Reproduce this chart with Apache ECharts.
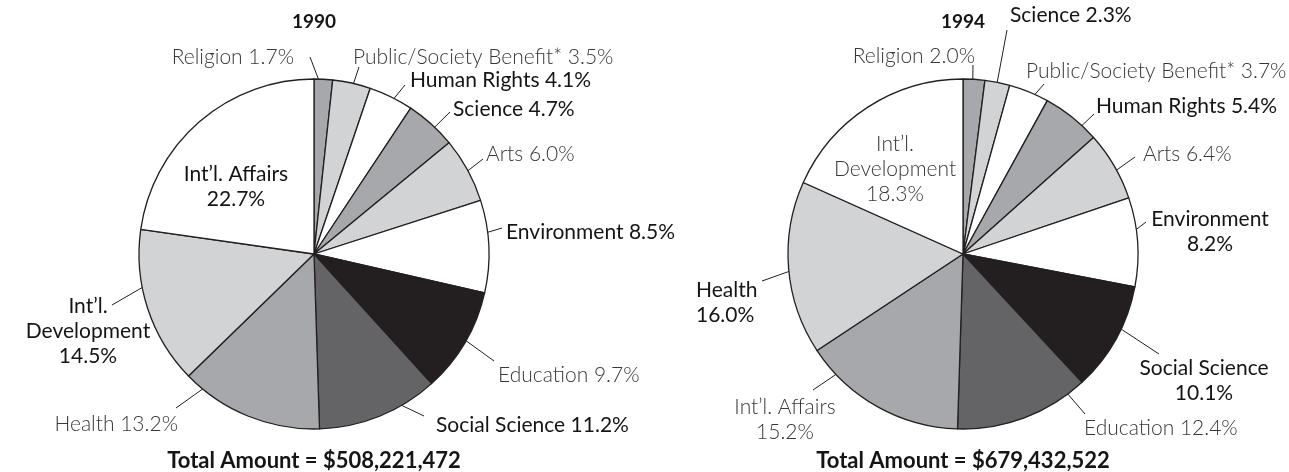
<!DOCTYPE html>
<html><head><meta charset="utf-8">
<script src="https://cdn.jsdelivr.net/npm/echarts@6/dist/echarts.min.js"></script>
<style>html,body{margin:0;padding:0;background:#fff}#c{width:1289px;height:472px}</style>
</head><body><div id="c"></div>
<script>
// ---- data ----
const years = ['1990', '1994'];
const totals = ['Total Amount = $508,221,472', 'Total Amount = $679,432,522'];
const categories1990 = ['Religion', 'Public/Society Benefit*', 'Human Rights', 'Science', 'Arts', 'Environment', 'Education', 'Social Science', 'Health', "Int\u2019l. Development", "Int\u2019l. Affairs"];
const values1990 = [1.7, 3.5, 4.1, 4.7, 6.0, 8.5, 9.7, 11.2, 13.2, 14.5, 22.7];
const categories1994 = ['Religion', 'Science', 'Public/Society Benefit*', 'Human Rights', 'Arts', 'Environment', 'Social Science', 'Education', "Int\u2019l. Affairs", 'Health', "Int\u2019l. Development"];
const values1994 = [2.0, 2.3, 3.7, 5.4, 6.4, 8.2, 10.1, 12.4, 15.2, 16.0, 18.3];

// ---- style ----
const G = '#a7a8ab', L = '#d2d3d5', W = '#ffffff', K = '#231f20', D = '#646466';
const fills = [G, L, W, G, L, W, K, D, G, L, W];
const CENTERS = [[314, 254], [963, 254]];
const R = 175;
const FONT = 'Lato';
// label placement: x,y anchor; end = leader line end; k = start radius fraction; da = start angle shift (deg)
const LABELS = [
  [
    {x: 294, y: 57, align: 'right', thin: 1, end: [310, 57], k: 0.9, da: 1},
    {x: 353, y: 57, align: 'left', thin: 1, end: [359, 67], k: 0.9},
    {x: 410, y: 80, align: 'left', end: [405, 85], k: 0.92},
    {x: 453, y: 109, align: 'left', end: [450, 112], k: 0.93, da: 1.4},
    {x: 486, y: 154, align: 'left', thin: 1, end: [483, 159], k: 0.89, da: 1.4},
    {x: 506, y: 232, align: 'left', end: [502, 228], k: 0.88, da: -3.3},
    {x: 498, y: 375, align: 'left', thin: 1, end: [494, 361], k: 0.94, da: -1},
    {x: 436, y: 425, align: 'left', end: [424, 416], k: 0.87, da: -2},
    {x: 178, y: 424, align: 'right', thin: 1, end: [176, 408], k: 0.91, da: 16},
    {x: 88, y: 331, align: 'center', brk: 'dev', end: [112, 305], k: 0.93, da: 8.5},
    {x: 236, y: 187, align: 'center', brk: 'two'}
  ],
  [
    {x: 975, y: 56, align: 'right', thin: 1, end: [973, 65], k: 0.86},
    {x: 1010, y: 15, align: 'left', end: [1007, 30], k: 0.9},
    {x: 1026, y: 71, align: 'left', thin: 1, end: [1044, 84], k: 0.89},
    {x: 1096, y: 106, align: 'left', end: [1094, 114], k: 0.93, da: 4},
    {x: 1143, y: 154, align: 'left', thin: 1, end: [1135, 157], k: 0.88, da: 2.5},
    {x: 1210, y: 232, align: 'center', brk: 'two', end: [1146, 222], k: 0.89},
    {x: 1204, y: 381, align: 'center', brk: 'two', end: [1159, 354], k: 0.95, da: -4},
    {x: 1084, y: 428, align: 'left', thin: 1, end: [1085, 414], k: 0.93, da: -16},
    {x: 785, y: 420, align: 'center', brk: 'two', thin: 1, end: [813, 390], k: 0.87, da: 16},
    {x: 696, y: 303, align: 'left', brk: 'two', end: [762, 281], k: 0.93},
    {x: 895, y: 169, align: 'center', brk: 'dev', thin: 1}
  ]
];

function labelText(name, v, spec) {
  const pct = v.toFixed(1) + '%';
  if (spec.brk === 'dev') return "Int\u2019l.\nDevelopment\n" + pct;
  if (spec.brk === 'two') return name + '\n' + pct;
  return name + ' ' + pct;
}

function buildData(cats, vals, idx) {
  return cats.map((n, i) => {
    const spec = LABELS[idx][i];
    return {
      name: n, value: vals[i],
      itemStyle: {color: fills[i]},
      label: {
        formatter: labelText(n, vals[i], spec),
        fontWeight: spec.thin ? 300 : 400,
        color: spec.thin ? '#38383a' : '#161415'
      },
      labelLine: {show: !!spec.end}
    };
  });
}

function makeLayout(idx) {
  return function (p) {
    const spec = LABELS[idx][p.dataIndex];
    const res = {x: spec.x, y: spec.y, align: spec.align, verticalAlign: 'middle'};
    if (spec.end && p.labelLinePoints) {
      const p0 = p.labelLinePoints[0];
      const c = CENTERS[idx];
      const k = spec.k || 0.9;
      const a = (spec.da || 0) * Math.PI / 180;
      const vx = (p0[0] - c[0]) * k, vy = (p0[1] - c[1]) * k;
      const sx = vx * Math.cos(a) - vy * Math.sin(a);
      const sy = vx * Math.sin(a) + vy * Math.cos(a);
      res.labelLinePoints = [[c[0] + sx, c[1] + sy], spec.end];
    }
    return res;
  };
}

function pie(cats, vals, idx) {
  return {
    type: 'pie',
    center: CENTERS[idx],
    radius: R,
    startAngle: 90,
    clockwise: true,
    avoidLabelOverlap: false,
    silent: true,
    itemStyle: {borderColor: '#231f20', borderWidth: 1.3},
    label: {show: true, position: 'outside', fontFamily: FONT, fontSize: 21, lineHeight: 25},
    labelLine: {show: true, lineStyle: {color: '#231f20', width: 1}},
    labelLayout: makeLayout(idx),
    data: buildData(cats, vals, idx)
  };
}

const chart = echarts.init(document.getElementById('c'), null, {renderer: 'canvas'});
chart.setOption({
  animation: false,
  backgroundColor: '#fff',
  title: [0, 1].map(i => ({
    text: years[i], left: CENTERS[i][0], top: 12, textAlign: 'center', padding: 0,
    textStyle: {fontFamily: FONT, fontSize: 19, lineHeight: 19, fontWeight: 'bold', color: '#161415'}
  })).concat([0, 1].map(i => ({
    text: totals[i], left: CENTERS[i][0], top: 450, textAlign: 'center', padding: 0,
    textStyle: {fontFamily: FONT, fontSize: 22, lineHeight: 22, fontWeight: 'bold', color: '#161415'}
  }))),
  series: [pie(categories1990, values1990, 0), pie(categories1994, values1994, 1)]
});
</script>
</body></html>
